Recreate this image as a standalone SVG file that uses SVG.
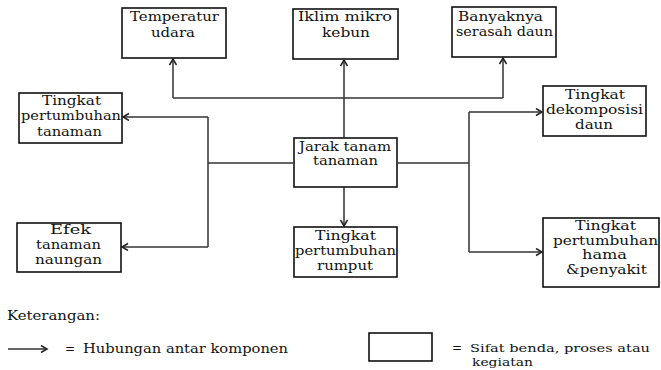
<svg xmlns="http://www.w3.org/2000/svg" width="661" height="370" viewBox="0 0 661 370">
<defs>
<marker id="ah" markerUnits="userSpaceOnUse" markerWidth="10" markerHeight="10" refX="7" refY="4" orient="auto">
<path d="M1,0.5 L7,4 L1,7.5" fill="none" stroke="#222" stroke-width="1.5"/>
</marker>
<style>
.box{fill:#fff;stroke:#111;stroke-width:1.6}
.ln{fill:none;stroke:#333;stroke-width:1.5}
.ar{fill:none;stroke:#333;stroke-width:1.5;marker-end:url(#ah)}
.t{font-family:'DejaVu Serif','Liberation Serif',serif;font-size:12px;fill:#111}
</style>
</defs>
<rect width="661" height="370" fill="#fff"/>
<g id="connectors">
<path class="ln" d="M173,98 H503"/>
<path class="ar" d="M173,98 V59"/>
<path class="ar" d="M503,98 V58"/>
<path class="ar" d="M344,138 V60"/>
<path class="ln" d="M293,163 H208 M208,117 V247"/>
<path class="ar" d="M208,117 H123"/>
<path class="ar" d="M208,247 H122"/>
<path class="ln" d="M398,163 H469 M469,112 V252"/>
<path class="ar" d="M469,112 H542"/>
<path class="ar" d="M469,252 H542"/>
<path class="ar" d="M344,187 V226"/>
</g>
<g class="t">
<g id="temperatur">
<rect class="box" x="122" y="8" width="104" height="50"/>
<text x="130" y="21" textLength="89" lengthAdjust="spacingAndGlyphs">Temperatur</text>
<text x="151" y="37" textLength="44" lengthAdjust="spacingAndGlyphs">udara</text>
</g>
<g id="iklim">
<rect class="box" x="293" y="9" width="105" height="50"/>
<text x="298" y="21" textLength="94" lengthAdjust="spacingAndGlyphs">Iklim mikro</text>
<text x="322" y="37" textLength="48" lengthAdjust="spacingAndGlyphs">kebun</text>
</g>
<g id="banyaknya">
<rect class="box" x="452" y="7" width="104" height="50"/>
<text x="458" y="21" textLength="85" lengthAdjust="spacingAndGlyphs">Banyaknya</text>
<text x="456" y="36" textLength="97" lengthAdjust="spacingAndGlyphs">serasah daun</text>
</g>
<g id="pertumbuhan-tanaman">
<rect class="box" x="19" y="93" width="103" height="50"/>
<text x="42" y="105" textLength="59" lengthAdjust="spacingAndGlyphs">Tingkat</text>
<text x="21" y="120" textLength="100" lengthAdjust="spacingAndGlyphs">pertumbuhan</text>
<text x="37" y="136" textLength="65" lengthAdjust="spacingAndGlyphs">tanaman</text>
</g>
<g id="dekomposisi">
<rect class="box" x="543" y="86" width="103" height="50"/>
<text x="565" y="99" textLength="60" lengthAdjust="spacingAndGlyphs">Tingkat</text>
<text x="546" y="114" textLength="97" lengthAdjust="spacingAndGlyphs">dekomposisi</text>
<text x="575" y="129" textLength="38" lengthAdjust="spacingAndGlyphs">daun</text>
</g>
<g id="jarak">
<rect class="box" x="294" y="138" width="103" height="49"/>
<text x="299" y="151" textLength="92" lengthAdjust="spacingAndGlyphs">Jarak tanam</text>
<text x="313" y="165" textLength="65" lengthAdjust="spacingAndGlyphs">tanaman</text>
</g>
<g id="efek">
<rect class="box" x="17" y="223" width="104" height="49"/>
<text x="50" y="234" textLength="41" lengthAdjust="spacingAndGlyphs">Efek</text>
<text x="36" y="249" textLength="65" lengthAdjust="spacingAndGlyphs">tanaman</text>
<text x="35" y="264" textLength="67" lengthAdjust="spacingAndGlyphs">naungan</text>
</g>
<g id="rumput">
<rect class="box" x="294" y="227" width="103" height="50"/>
<text x="315" y="240" textLength="61" lengthAdjust="spacingAndGlyphs">Tingkat</text>
<text x="295" y="255" textLength="101" lengthAdjust="spacingAndGlyphs">pertumbuhan</text>
<text x="317" y="270" textLength="56" lengthAdjust="spacingAndGlyphs">rumput</text>
</g>
<g id="hama">
<rect class="box" x="543" y="218" width="116" height="69"/>
<text x="575" y="230" textLength="61" lengthAdjust="spacingAndGlyphs">Tingkat</text>
<text x="553" y="245" textLength="105" lengthAdjust="spacingAndGlyphs">pertumbuhan</text>
<text x="582" y="259" textLength="45" lengthAdjust="spacingAndGlyphs">hama</text>
<text x="566" y="274" textLength="81" lengthAdjust="spacingAndGlyphs">&amp;penyakit</text>
</g>
<g id="legend">
<text x="7" y="320" textLength="93" lengthAdjust="spacingAndGlyphs">Keterangan:</text>
<path class="ar" d="M8,349 H47"/>
<text x="65" y="353">=</text>
<text x="83" y="353" textLength="205" lengthAdjust="spacingAndGlyphs">Hubungan antar komponen</text>
<rect class="box" x="369" y="333" width="63" height="28"/>
<text x="452" y="352">=</text>
<text x="470" y="352" font-size="11.5" textLength="180" lengthAdjust="spacingAndGlyphs">Sifat benda, proses atau</text>
<text x="472" y="366" font-size="11.5" textLength="61" lengthAdjust="spacingAndGlyphs">kegiatan</text>
</g>
</g>
</svg>
